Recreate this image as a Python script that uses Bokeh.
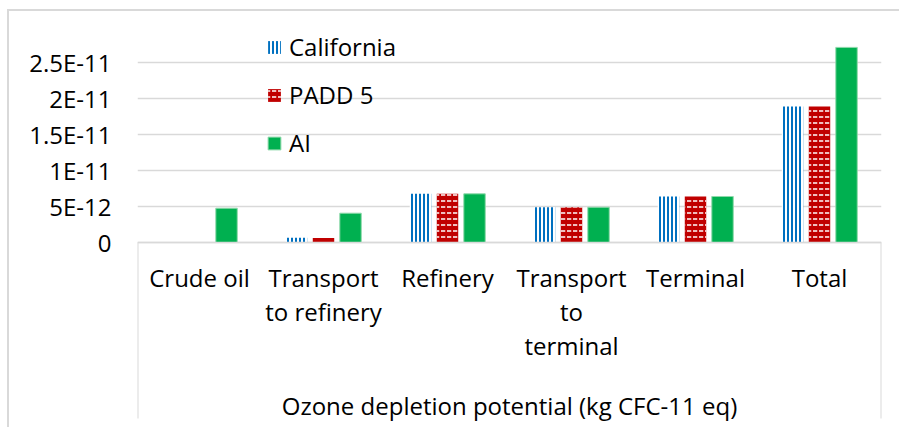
from bokeh.plotting import figure
from bokeh.models import FactorRange, Range1d, Legend, LegendItem, ColumnDataSource
from bokeh.transform import dodge
from bokeh.embed import file_html
from bokeh.resources import INLINE

categories = ["Crude oil", "Transport\nto refinery", "Refinery", "Transport\nto\nterminal", "Terminal", "Total"]
california = [0.0, 0.65e-12, 6.76e-12, 4.9e-12, 6.39e-12, 18.9e-12]
padd5 = [0.0, 0.62e-12, 6.76e-12, 4.9e-12, 6.39e-12, 18.9e-12]
ai = [4.76e-12, 4.07e-12, 6.76e-12, 4.9e-12, 6.39e-12, 27.1e-12]
series_names = ["California", "PADD 5", "AI"]
y_ticks = [0, 5e-12, 1e-11, 1.5e-11, 2e-11, 2.5e-11]
y_tick_labels = ["0", "5E-12", "1E-11", "1.5E-11", "2E-11", "2.5E-11"]
x_title = "Ozone depletion potential (kg CFC-11 eq)"

FONT = "Open Sans"
GRID = "#d9d9d9"

source = ColumnDataSource(data=dict(cat=categories, california=california, padd5=padd5, ai=ai))

# vertical scale: 7.2 px per 1e-12, zero line 224 px below frame top
y_start = -25.694e-12
y_end = 31.111e-12
box_bottom = -24.444e-12

p = figure(width=892, height=418, title=None, toolbar_location=None, output_backend="svg",
           x_range=FactorRange(factors=categories, range_padding=0),
           y_range=Range1d(y_start, y_end),
           min_border_left=128, min_border_right=20, min_border_top=7, min_border_bottom=2,
           background_fill_color="white", border_fill_color="white")
p.outline_line_color = None
p.xgrid.grid_line_color = None
p.ygrid.grid_line_color = GRID
p.ygrid.grid_line_width = 1.5

p.yaxis.ticker = y_ticks
p.yaxis.major_label_overrides = {t: s for t, s in zip(y_ticks, y_tick_labels)}
p.yaxis.axis_line_color = None
p.yaxis.major_tick_line_color = None
p.yaxis.minor_tick_line_color = None
p.yaxis.major_label_standoff = 20
p.yaxis.major_label_text_font = FONT
p.yaxis.major_label_text_font_size = "24px"
p.yaxis.major_label_text_color = "black"

p.xaxis.fixed_location = 0
p.xaxis.axis_line_color = GRID
p.xaxis.axis_line_width = 1.5
p.xaxis.major_tick_line_color = None
p.xaxis.minor_tick_line_color = None
p.xaxis.major_label_standoff = 12
p.xaxis.major_label_text_font = FONT
p.xaxis.major_label_text_font_size = "24px"
p.xaxis.major_label_text_color = "black"
p.xaxis.major_label_text_line_height = 1.04
p.xaxis.axis_label = x_title
p.xaxis.axis_label_text_font = FONT
p.xaxis.axis_label_text_font_size = "24px"
p.xaxis.axis_label_text_font_style = "normal"
p.xaxis.axis_label_text_color = "black"
p.xaxis.axis_label_text_line_height = 1.04
p.xaxis.axis_label_standoff = 24

n = len(categories)
p.segment(x0=[0, n], y0=[0, 0], x1=[0, n], y1=[box_bottom, box_bottom], line_color=GRID, line_width=2)

bw = 0.173
off = 0.218
r1 = p.vbar(x=dodge("cat", -off, range=p.x_range), top="california", width=bw, source=source,
            fill_color="white", line_color=None,
            hatch_pattern="vertical_line", hatch_color="#0070c0", hatch_scale=4, hatch_weight=2)
r2 = p.vbar(x=dodge("cat", 0, range=p.x_range), top="padd5", width=bw, source=source,
            fill_color="#c00000", line_color=None,
            hatch_pattern="horizontal_dash", hatch_color="white", hatch_scale=6, hatch_weight=1.5)
r3 = p.vbar(x=dodge("cat", off, range=p.x_range), top="ai", width=bw, source=source,
            fill_color="#00b050", line_color="#8fd9ab", line_width=1)

legend = Legend(items=[LegendItem(label=series_names[0], renderers=[r1]),
                       LegendItem(label=series_names[1], renderers=[r2]),
                       LegendItem(label=series_names[2], renderers=[r3])],
                location=(129, 268), orientation="vertical",
                glyph_width=16, glyph_height=16, label_height=28, spacing=15,
                label_standoff=7, padding=0, margin=0,
                label_text_font=FONT, label_text_font_size="24px", label_text_color="black",
                border_line_color=None, background_fill_alpha=0)
p.add_layout(legend, "center")

p.styles = {"margin-left": "7px", "margin-top": "9px",
            "border-left": "2px solid #d9d9d9", "border-top": "2px solid #d9d9d9"}

open("out.html", "w").write(file_html(p, INLINE))
